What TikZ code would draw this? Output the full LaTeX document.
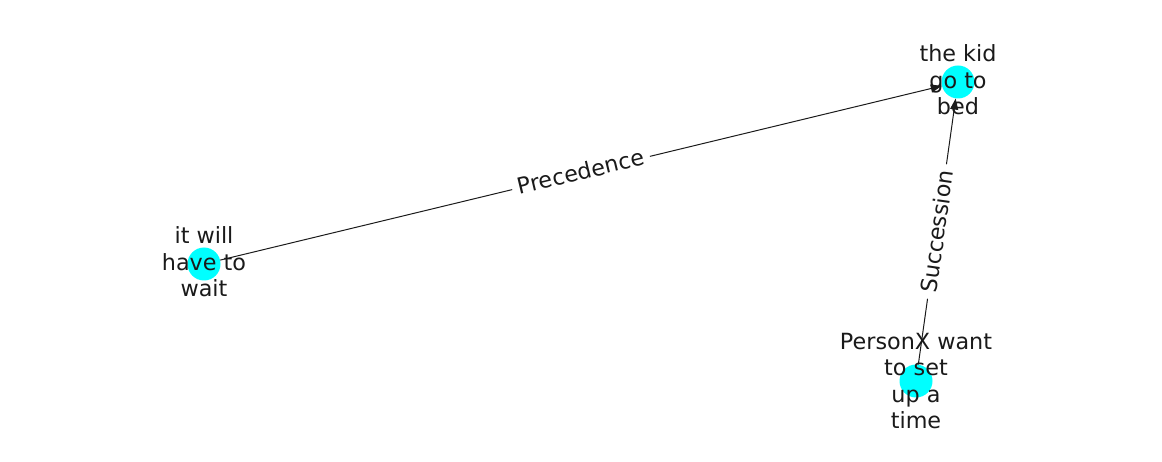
\documentclass[tikz,border=0pt]{standalone}
\usepackage{fontspec}
\setmainfont{DejaVu Sans}
\usetikzlibrary{arrows.meta}
\definecolor{txt}{HTML}{1A1A1A}
\definecolor{nodecyan}{RGB}{0,255,255}
\tikzset{
  dot/.style={circle, fill=nodecyan, draw=none, inner sep=0pt, minimum size=33pt},
  lbl/.style={text=txt, align=center, font=\fontsize{22.3}{26.5}\selectfont, inner sep=0pt},
  edge/.style={draw=txt, line width=1pt, -{Triangle[length=11pt,width=8pt]}},
  elbl/.style={text=txt, fill=white, font=\fontsize{22.3}{26.5}\selectfont, inner xsep=6pt, inner ysep=4pt, sloped, midway}
}
\begin{document}
\begin{tikzpicture}[x=1pt,y=-1pt]
\useasboundingbox (0,0) rectangle (1162,462);
\node[dot] (a) at (958,82) {};
\node[dot] (b) at (204,264) {};
\node[dot] (c) at (916,381) {};
\draw[edge] (b) -- (a) node[elbl, yshift=1.5pt] {Precedence};
\draw[edge] (c) -- (a) node[elbl] {Succession};
\node[lbl] (ta) at (958,80) {the kid\\go to\\bed};
\node[lbl] (tb) at (204,262) {it will\\have to\\wait};
\node[lbl] (tc) at (916,381) {PersonX want\\to set\\up a\\time};
\end{tikzpicture}
\end{document}
